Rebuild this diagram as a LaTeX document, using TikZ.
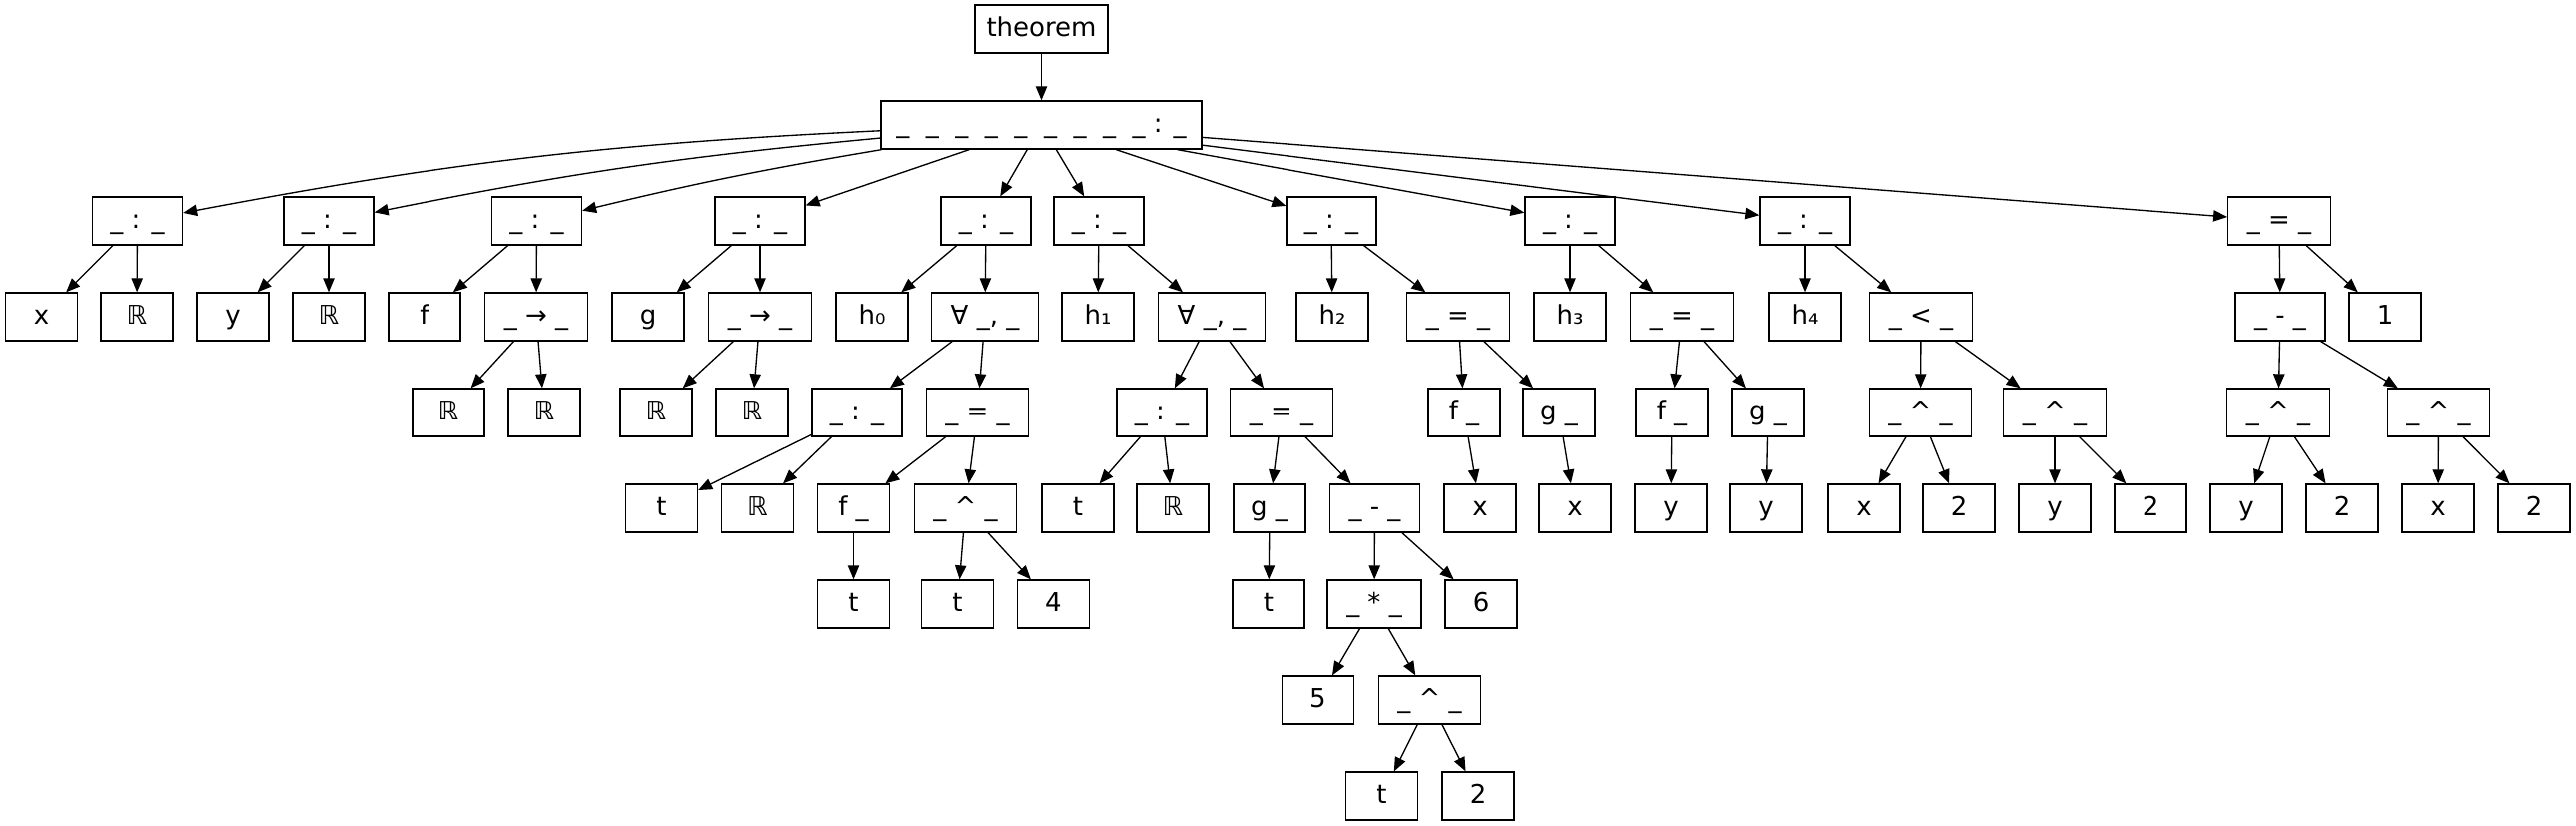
\documentclass[tikz,border=0pt]{standalone}
\usepackage{fontspec}
\setmainfont{DejaVu Sans}
\usetikzlibrary{arrows.meta}

\tikzset{
  tnode/.style={draw, line width=1pt, inner sep=0pt, minimum height=36pt, minimum width=54pt,
    text height=15.6pt, text depth=4.3pt, font=\fontsize{19.5}{23}\selectfont},
}
\newcommand{\bop}[1]{\_ #1 \_}

\begin{document}
\begin{tikzpicture}[x=0.75pt, y=-0.75pt, line width=1pt, >={Triangle[length=10.5pt,width=8.5pt]}]
 \useasboundingbox (0,0) rectangle (2579,827);

 % level 0 and 1
 \node[tnode, minimum width=99.75pt] (thm) at (1042.5,29) {theorem};
 \node[tnode, minimum width=240.75pt] (root) at (1042.5,125)
   {\_~~\_~~\_~~\_~~\_~~\_~~\_~~\_~~\_ : \_};

 % level 2
 \foreach \x/\lbl/\n/\w in {137.5/{\bop{:}}/c1/90, 329/{\bop{:}}/c2/90, 537.5/{\bop{:}}/c3/90,
     761/{\bop{:}}/c4/90, 987/{\bop{:}}/c5/90, 1100/{\bop{:}}/c6/90, 1333/{\bop{:}}/c7/90,
     1572/{\bop{:}}/c8/90, 1807/{\bop{:}}/c9/90, 2282/{\bop{=}}/c10/102.5} {
   \node[tnode, minimum width=\w*0.75pt] (\n) at (\x,221) {\lbl};
 }

 % level 3
 \foreach \x/\lbl/\n/\w in {41.5/x/x1/72, 137/ℝ/r1/72, 233/y/y1/72, 329/ℝ/r2/72, 425/f/f1/72,
     537/{\bop{→}}/a1/102.5, 649/g/g1/72, 761/{\bop{→}}/a2/102.5, 873/h₀/h0/72,
     986/{∀ \_, \_}/q1/107, 1099/h₁/h1/72, 1213/{∀ \_, \_}/q2/107, 1334/h₂/h2/72,
     1460/{\bop{=}}/e3/102.5, 1572/h₃/h3/72, 1684/{\bop{=}}/e4/102.5, 1807/h₄/h4/72,
     1923/{\bop{<}}/l1/102.5, 2283/{\bop{-}}/s2/90, 2388/1/n1/72} {
   \node[tnode, minimum width=\w*0.75pt] (\n) at (\x,317) {\lbl};
 }

 % level 4
 \foreach \x/\lbl/\n/\w in {449/ℝ/r3/72, 545/ℝ/r4/72, 657/ℝ/r5/72, 753/ℝ/r6/72,
     858/{\bop{:}}/k1/90, 978.5/{\bop{=}}/e1/102.5, 1163/{\bop{:}}/k2/90, 1283/{\bop{=}}/e2/102.5,
     1466/{f \_}/fa/72, 1561/{g \_}/ga/72, 1674/{f \_}/fb/72, 1770/{g \_}/gb/72,
     1922.5/{\bop{\textasciicircum}}/p3/102.5, 2057/{\bop{\textasciicircum}}/p4/102.5,
     2281/{\bop{\textasciicircum}}/p5/102.5, 2441.5/{\bop{\textasciicircum}}/p6/102.5} {
   \node[tnode, minimum width=\w*0.75pt] (\n) at (\x,413) {\lbl};
 }

 % level 5
 \foreach \x/\lbl/\n/\w in {662.5/t/t1/72, 758.5/ℝ/r7/72, 854.5/{f \_}/fc/72,
     966.5/{\bop{\textasciicircum}}/p1/102.5, 1079/t/t2/72, 1174/ℝ/r8/72, 1271/{g \_}/gc/72,
     1376.5/{\bop{-}}/s1/90, 1482/x/x2/72, 1577/x/x3/72, 1673/y/y2/72, 1768/y/y3/72,
     1866/x/x4/72, 1961/2/d1/72, 2057/y/y4/72, 2153/2/d2/72, 2249/y/y5/72, 2345/2/d3/72,
     2441/x/x5/72, 2537/2/d4/72} {
   \node[tnode, minimum width=\w*0.75pt] (\n) at (\x,509) {\lbl};
 }

 % levels 6 to 8
 \foreach \x/\y/\lbl/\n/\w in {854.5/605/t/t3/72, 958.5/605/t/t4/72, 1054.5/605/4/n4/72,
     1270/605/t/t5/72, 1376/605/{\bop{*}}/m1/94, 1483/605/6/n6/72,
     1319.5/701/5/n5/72, 1431.5/701/{\bop{\textasciicircum}}/p2/102.5,
     1383.5/797/t/t6/72, 1480/797/2/d5/72} {
   \node[tnode, minimum width=\w*0.75pt] (\n) at (\x,\y) {\lbl};
 }

 % edges
 \draw[->] (thm) -- (root);
 \foreach \n/\b in {c1/4, c2/3, c3/2, c4/0, c5/0, c6/0, c7/0, c8/0, c9/0, c10/0}
   \draw[->] (root) to[bend right=\b] (\n);

 \foreach \source/\dest in {c1/x1, c1/r1, c2/y1, c2/r2, c3/f1, c3/a1, a1/r3, a1/r4,
     c4/g1, c4/a2, a2/r5, a2/r6, c5/h0, c5/q1, q1/k1, q1/e1, k1/t1, k1/r7, e1/fc, e1/p1,
     fc/t3, p1/t4, p1/n4, c6/h1, c6/q2, q2/k2, q2/e2, k2/t2, k2/r8, e2/gc, e2/s1, gc/t5,
     s1/m1, s1/n6, m1/n5, m1/p2, p2/t6, p2/d5, c7/h2, c7/e3, e3/fa, e3/ga, fa/x2, ga/x3,
     c8/h3, c8/e4, e4/fb, e4/gb, fb/y2, gb/y3, c9/h4, c9/l1, l1/p3, l1/p4, p3/x4, p3/d1,
     p4/y4, p4/d2, c10/s2, c10/n1, s2/p5, s2/p6, p5/y5, p5/d3, p6/x5, p6/d4}
   \draw[->] (\source) -- (\dest);

\end{tikzpicture}
\end{document}
